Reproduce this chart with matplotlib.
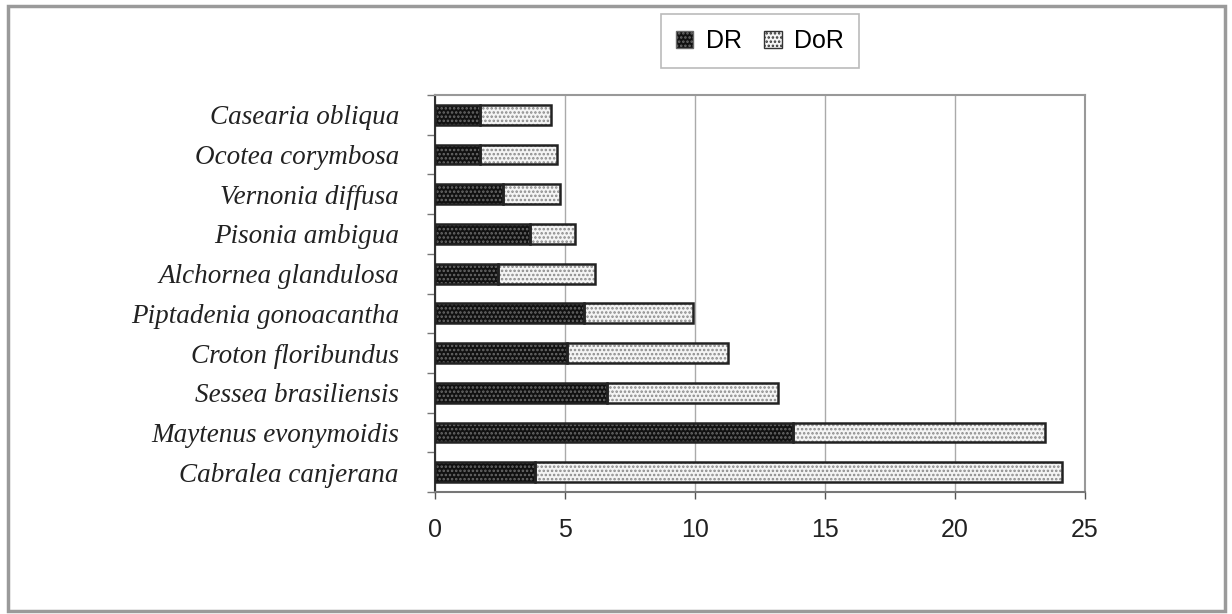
import matplotlib
matplotlib.use("Agg")
import matplotlib.pyplot as plt
from matplotlib.patches import Rectangle, Patch
import numpy as np

species = ["Cabralea canjerana", "Maytenus evonymoidis", "Sessea brasiliensis",
           "Croton floribundus", "Piptadenia gonoacantha", "Alchornea glandulosa",
           "Pisonia ambigua", "Vernonia diffusa", "Ocotea corymbosa", "Casearia obliqua"]
dr = [3.85, 13.76, 6.63, 5.09, 5.72, 2.41, 3.65, 2.63, 1.73, 1.73]
dor = [20.25, 9.70, 6.56, 6.18, 4.20, 3.74, 1.73, 2.18, 2.95, 2.72]
xticks = [0, 5, 10, 15, 20, 25]

plt.rcParams['hatch.linewidth'] = 1.2

fig = plt.figure(figsize=(12.32, 6.14), dpi=100)
fig.patches.append(Rectangle((8/1232, 3/614), 1217/1232, 605/614, transform=fig.transFigure,
                             fill=False, edgecolor="#9a9a9a", linewidth=2.5))

ax = fig.add_axes([435/1232, 1 - 492/614, 650/1232, 397/614])
y = np.arange(len(species))
h = 0.5

# DR bars
ax.barh(y, dr, height=h, color="#111111", edgecolor="#6a6a6a", hatch="....", linewidth=0, zorder=3)
ax.barh(y, dr, height=h, fill=False, edgecolor="#222222", linewidth=1.8, zorder=4)
# DoR bars
ax.barh(y, dor, left=dr, height=h, color="#f4f4f4", edgecolor="#8a8a8a", hatch="....", linewidth=0, zorder=3)
ax.barh(y, dor, left=dr, height=h, fill=False, edgecolor="#222222", linewidth=1.8, zorder=4)

ax.set_xlim(0, 25)
ax.set_ylim(-0.5, len(species) - 0.5)
ax.set_xticks(xticks)
ax.set_xticklabels([str(t) for t in xticks], fontsize=18, family="Liberation Sans", color="#222222")
ax.tick_params(axis="x", direction="out", length=5, width=1, color="#555555", pad=14)

ax.set_yticks(y)
ax.set_yticklabels(species, fontsize=19.5, family="Liberation Serif", style="italic", color="#222222")
ax.tick_params(axis="y", length=0, pad=26)
ax.set_yticks(np.arange(-0.5, len(species), 1.0), minor=True)
ax.tick_params(axis="y", which="minor", direction="out", length=6, width=1, color="#777777")

ax.xaxis.grid(True, color="#aaaaaa", linewidth=1)
ax.set_axisbelow(True)
for s in ["top", "right"]:
    ax.spines[s].set_color("#999999")
    ax.spines[s].set_linewidth(1.5)
ax.spines["left"].set_color("#333333")
ax.spines["left"].set_linewidth(1.5)
ax.spines["bottom"].set_color("#777777")
ax.spines["bottom"].set_linewidth(1.5)

handles = [Patch(facecolor="#111111", edgecolor="#6a6a6a", hatch="...."),
           Patch(facecolor="#f4f4f4", edgecolor="#333333", hatch="....")]
leg = fig.legend(handles, ["DR", "DoR"], loc="center", bbox_to_anchor=(760/1232, 1 - 41/614),
                 ncol=2, frameon=True, fancybox=False, prop={"family": "Liberation Sans", "size": 18},
                 handlelength=0.7, handleheight=0.7, handletextpad=0.5, columnspacing=0.9,
                 borderpad=0.6, borderaxespad=0)
leg.get_frame().set_edgecolor("#aaaaaa")
leg.get_frame().set_linewidth(1.2)

fig.savefig("out.png", dpi=100)
